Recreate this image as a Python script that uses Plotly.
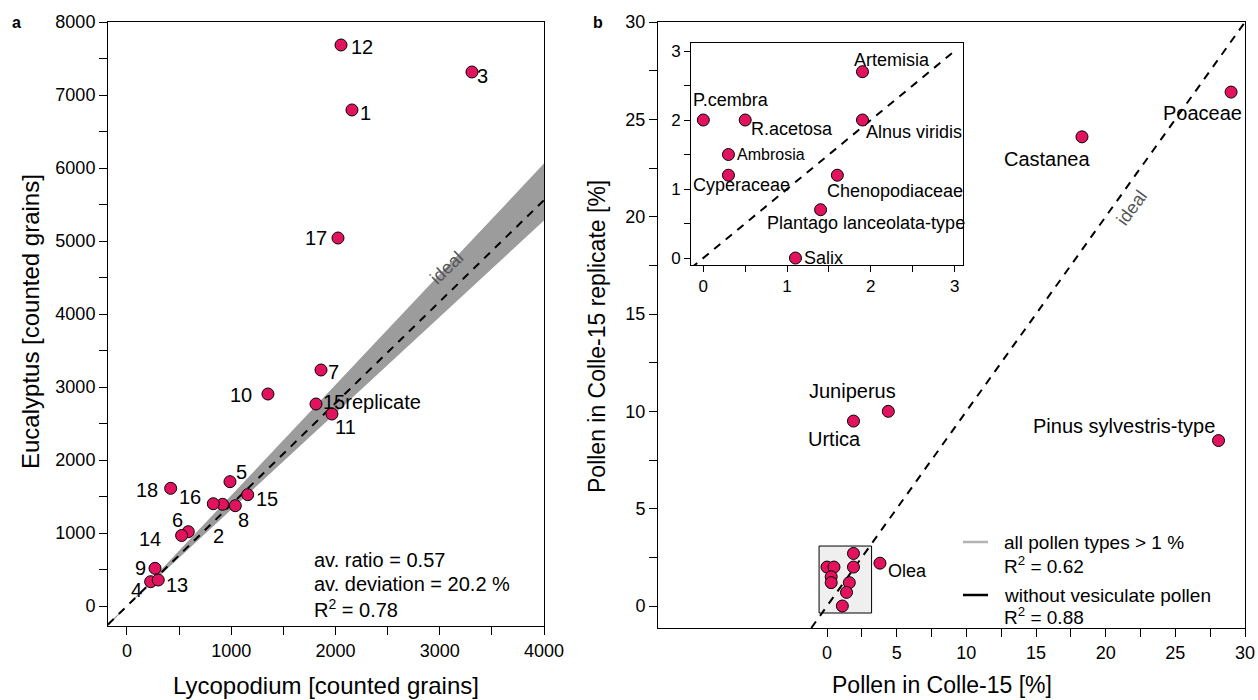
import plotly.graph_objects as go

# ---------------- data: panel a ----------------
labels_a = ["1", "2", "3", "4", "5", "6", "7", "8", "9", "10", "11", "12", "13",
            "14", "15", "16", "17", "18", "15replicate"]
lycopodium = [2158, 917, 3309, 227, 988, 588, 1861, 1039, 269, 1352, 1966, 2053, 300,
              524, 1158, 828, 2024, 419, 1813]
eucalyptus = [6795, 1393, 7315, 333, 1703, 1018, 3233, 1374, 516, 2904, 2630, 7685, 356,
              966, 1525, 1401, 5041, 1612, 2767]
ideal_slope_a = 1.39
band_upper_slope = 1.515
band_lower_slope = 1.32
stats_a = ["av. ratio = 0.57", "av. deviation = 20.2 %", "R<sup>2</sup> = 0.78"]

# ---------------- data: panel b ----------------
main_names = ["Poaceae", "Castanea", "Juniperus", "Urtica", "Pinus sylvestris-type", "Olea"]
colle15 = [29.0, 18.3, 4.4, 1.9, 28.1, 3.8]
replicate = [26.4, 24.1, 10.0, 9.5, 8.5, 2.2]

inset_names = ["P.cembra", "R.acetosa", "Ambrosia", "Cyperaceae", "Artemisia",
               "Alnus viridis", "Chenopodiaceae", "Plantago lanceolata-type", "Salix"]
inset_colle = [0.0, 0.5, 0.3, 0.3, 1.9, 1.9, 1.6, 1.4, 1.1]
inset_rep = [2.0, 2.0, 1.5, 1.2, 2.7, 2.0, 1.2, 0.7, 0.0]

legend_b = [("all pollen types > 1 %", "R<sup>2</sup> = 0.62", "#b3b3b3"),
            ("without vesiculate pollen", "R<sup>2</sup> = 0.88", "black")]

# ---------------- style ----------------
W, H = 1258, 700
FONT = "Liberation Sans, Arial, Helvetica, sans-serif"
PINK = "#e3125f"
GRAY_BAND = "#9c9c9c"
INSET_BG = "#efefef"


def px(x):
    return x / W


def py(y):
    return 1 - y / H


fig = go.Figure()

# axes ranges (a)
xa_rng = [-182, 4000]
ya_rng = [-274, 8000]
bx = [xa_rng[0], xa_rng[1], xa_rng[1], xa_rng[0]]
by = [band_upper_slope * xa_rng[0], band_upper_slope * xa_rng[1],
      band_lower_slope * xa_rng[1], band_lower_slope * xa_rng[0]]
fig.add_trace(go.Scatter(x=bx, y=by, fill="toself", fillcolor=GRAY_BAND, mode="lines",
                         line=dict(width=0, color=GRAY_BAND), hoverinfo="skip",
                         showlegend=False, xaxis="x", yaxis="y"))
fig.add_trace(go.Scatter(x=xa_rng, y=[ideal_slope_a * v for v in xa_rng], mode="lines",
                         line=dict(color="black", width=2, dash="8px,7px"),
                         showlegend=False, xaxis="x", yaxis="y"))
fig.add_trace(go.Scatter(x=lycopodium, y=eucalyptus, mode="markers",
                         marker=dict(size=12, color=PINK, line=dict(color="black", width=1)),
                         showlegend=False, xaxis="x", yaxis="y"))

# panel b
xb_rng = [-12.13, 30]
yb_rng = [-1.13, 30]
fig.add_trace(go.Scatter(x=[yb_rng[0], 30], y=[yb_rng[0], 30], mode="lines",
                         line=dict(color="black", width=2, dash="8px,7px"),
                         showlegend=False, xaxis="x2", yaxis="y2"))
fig.add_trace(go.Scatter(x=colle15 + inset_colle, y=replicate + inset_rep, mode="markers",
                         marker=dict(size=12, color=PINK, line=dict(color="black", width=1)),
                         showlegend=False, xaxis="x2", yaxis="y2"))

# inset
xi_rng = [-0.147, 3.1]
yi_rng = [-0.101, 3.116]
fig.add_trace(go.Scatter(x=[xi_rng[0], 3], y=[xi_rng[0], 3], mode="lines",
                         line=dict(color="black", width=2, dash="8px,7px"),
                         showlegend=False, xaxis="x3", yaxis="y3"))
fig.add_trace(go.Scatter(x=inset_colle, y=inset_rep, mode="markers",
                         marker=dict(size=12, color=PINK, line=dict(color="black", width=1)),
                         showlegend=False, xaxis="x3", yaxis="y3"))

ax_common = dict(showgrid=False, zeroline=False, showline=True, linecolor="black",
                 linewidth=1, mirror=True, ticks="outside", ticklen=8, tickcolor="black",
                 automargin=False,
                 tickfont=dict(family=FONT, size=18, color="black"))
ax_inset = {**ax_common, "ticklen": 6, "tickfont": dict(family=FONT, size=17, color="black")}


def ticks(step, top, every, fmt=lambda v: str(v)):
    vals, txt = [], []
    n = int(round(top / step))
    for i in range(n + 1):
        v = i * step
        vals.append(v)
        txt.append(fmt(v) if i % every == 0 else "")
    return vals, txt


xa_tv, xa_tt = ticks(500, 4000, 2, lambda v: str(int(v)))
ya_tv, ya_tt = ticks(500, 8000, 2, lambda v: str(int(v)))
xb_tv, xb_tt = ticks(2.5, 30, 2, lambda v: str(int(v)))
xi_tv, xi_tt = ticks(0.5, 3, 2, lambda v: str(int(v)))

fig.update_layout(
    template="none",
    width=W, height=H, margin=dict(l=0, r=0, t=0, b=0, pad=0, autoexpand=False),
    paper_bgcolor="white", plot_bgcolor="white",
    font=dict(family=FONT, color="black"),
    xaxis=dict(domain=[px(108), px(544)], range=xa_rng, tickvals=xa_tv, ticktext=xa_tt,
               anchor="y", **ax_common),
    yaxis=dict(domain=[py(626), py(22)], range=ya_rng, tickvals=ya_tv, ticktext=ya_tt,
               anchor="x", **ax_common),
    xaxis2=dict(domain=[px(658), px(1245)], range=xb_rng, tickvals=xb_tv, ticktext=xb_tt,
                anchor="y2", **ax_common),
    yaxis2=dict(domain=[py(628), py(22)], range=yb_rng, tickvals=xb_tv, ticktext=xb_tt,
                anchor="x2", **ax_common),
    xaxis3=dict(domain=[px(691), px(963)], range=xi_rng, tickvals=xi_tv, ticktext=xi_tt,
                anchor="y3", **ax_inset),
    yaxis3=dict(domain=[py(265), py(43)], range=yi_rng, tickvals=xi_tv, ticktext=xi_tt,
                anchor="x3", **ax_inset),
)

shapes = []
shapes.append(dict(type="rect", xref="x3 domain", yref="y3 domain", x0=0, x1=1, y0=0, y1=1,
                   fillcolor=INSET_BG, line=dict(width=0), layer="below"))
shapes.append(dict(type="rect", xref="x2", yref="y2", x0=-0.57, x1=3.2, y0=-0.36, y1=3.08,
                   fillcolor=INSET_BG, line=dict(color="black", width=1), layer="below"))
leg_rows = [(542, 565), (595, 616)]
for (t1, t2, col), (y1, y2) in zip(legend_b, leg_rows):
    shapes.append(dict(type="line", xref="paper", yref="paper", x0=px(963), x1=px(988),
                       y0=py(y1), y1=py(y1), line=dict(color=col, width=2.5)))
fig.update_layout(shapes=shapes)

ann = []


def label(text, x, y, dx, dy, xr, yr, size=20, anchor="center"):
    ann.append(dict(text=text, x=x, y=y, xref=xr, yref=yr, xshift=dx, yshift=-dy,
                    showarrow=False, xanchor=anchor, yanchor="middle",
                    font=dict(family=FONT, size=size, color="black")))


def ptext(text, x, y, size, xanchor="center", angle=0, color="black"):
    ann.append(dict(text=text, x=px(x), y=py(y), xref="paper", yref="paper",
                    xanchor=xanchor, yanchor="middle", showarrow=False, textangle=angle,
                    font=dict(family=FONT, size=size, color=color)))


offs_a = {"1": (14, 3), "2": (-4, 32), "3": (11, 4), "4": (-14, 8), "5": (12, -10),
          "6": (-11, -12), "7": (12, 2), "8": (8, 14), "9": (-15, 0), "10": (-27, 1),
          "11": (14, 13), "12": (21, 2), "13": (19, 5), "14": (-32, 4), "15": (19, 4),
          "16": (-23, -7), "17": (-22, 0), "18": (-24, 2), "15replicate": (5, -2)}
for t, xv, yv in zip(labels_a, lycopodium, eucalyptus):
    dx, dy = offs_a[t]
    label(t, xv, yv, dx, dy, "x", "y", size=20,
          anchor="left" if t == "15replicate" else "center")

offs_b = {"Poaceae": (-29, 21), "Castanea": (-35, 22), "Juniperus": (-36, -20),
          "Urtica": (-19, 18), "Pinus sylvestris-type": (-95, -15), "Olea": (28, 8)}
for t, xv, yv in zip(main_names, colle15, replicate):
    dx, dy = offs_b[t]
    label(t, xv, yv, dx, dy, "x2", "y2", size=20 if t != "Olea" else 18)

offs_i = {"P.cembra": (28, -20), "R.acetosa": (47, 9), "Ambrosia": (43, 0),
          "Cyperaceae": (13, 10), "Artemisia": (30, -12), "Alnus viridis": (52, 12),
          "Chenopodiaceae": (58, 16), "Plantago lanceolata-type": (45, 13), "Salix": (28, 0)}
for t, xv, yv in zip(inset_names, inset_colle, inset_rep):
    dx, dy = offs_i[t]
    label(t, xv, yv, dx, dy, "x3", "y3", size=16 if t == "Ambrosia" else 18)

# "ideal" labels
ann.append(dict(text="ideal", x=3200, y=ideal_slope_a * 3200, xref="x", yref="y",
                xanchor="center", yanchor="middle", xshift=-14, yshift=13, showarrow=False,
                textangle=-44, font=dict(family=FONT, size=18, color="#555555")))
ann.append(dict(text="ideal", x=20.44, y=20.44, xref="x2", yref="y2", xanchor="center",
                yanchor="middle", xshift=20, yshift=0, showarrow=False, textangle=-54,
                font=dict(family=FONT, size=18, color="#555555")))

for t, yy in zip(stats_a, [560, 584, 608]):
    ptext(t, 312, yy, 20, xanchor="left")

for (t1, t2, col), (y1, y2) in zip(legend_b, leg_rows):
    ptext(t1, 1002, y1, 19, xanchor="left")
    ptext(t2, 1002, y2, 19, xanchor="left")

ptext("Lycopodium [counted grains]", 326, 685, 24)
ptext("Eucalyptus [counted grains]", 30, 322, 24, angle=-90)
ptext("Pollen in Colle-15 [%]", 942, 685, 23)
ptext("Pollen in Colle-15 replicate [%]", 597, 337, 23, angle=-90)
ptext("<b>a</b>", 16, 22, 16)
ptext("<b>b</b>", 598, 22, 16)

fig.update_layout(annotations=ann)
fig.write_html("out.html", config={"displayModeBar": False},
               post_script="document.body.style.margin='0px';")
